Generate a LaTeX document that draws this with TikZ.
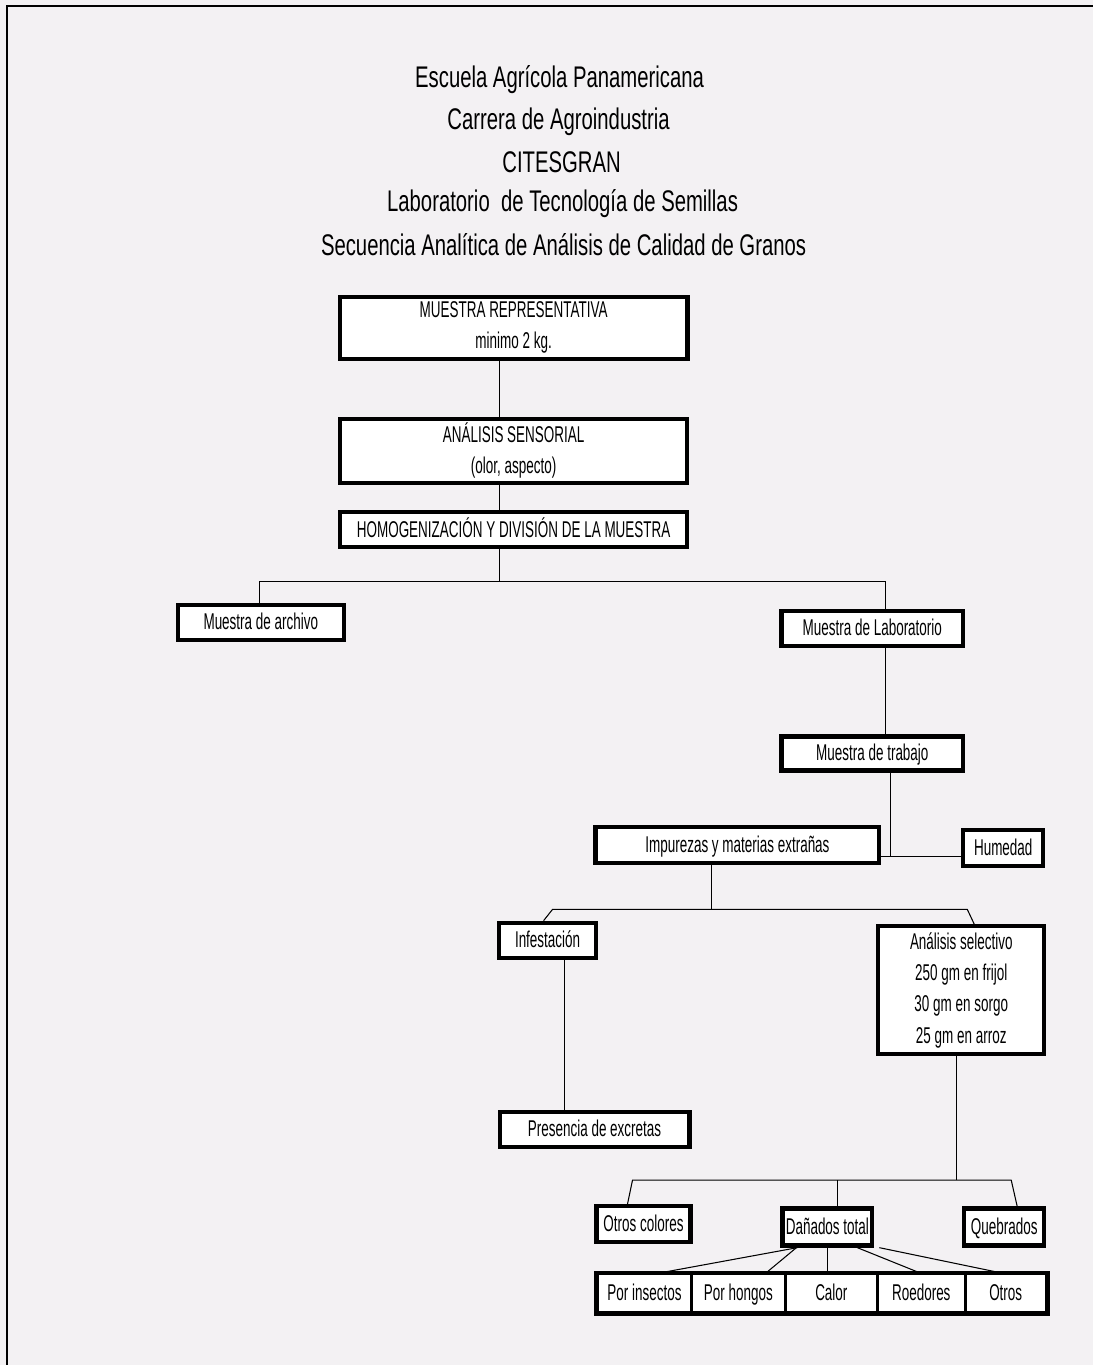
\documentclass[tikz,border=0pt]{standalone}
\usepackage{fontspec}
\setmainfont{Liberation Sans}[FakeStretch=0.74]
\newfontfamily\titlefont{Liberation Sans}[FakeStretch=0.68]
\newfontfamily\boxfont{Liberation Sans}[FakeStretch=0.59]
\usetikzlibrary{calc}

\definecolor{paper}{HTML}{F3F1F3}

\begin{document}
\begin{tikzpicture}
		[x=0.02cm,y=-0.02cm,
		title/.style={font=\titlefont\fontsize{17}{20}\selectfont},
		box/.style 2 args={draw,line width=2.4pt,fill=white,inner sep=0pt,align=center,
			text height=10pt,text depth=1.5pt,
			minimum width=#1*0.02cm,minimum height=#2*0.02cm,font=\boxfont\fontsize{13}{17.8}\selectfont},
		lines/.style={text height=,text depth=},
		cell/.style={box={#1}{38},line width=1.6pt},
		edge/.style={line width=0.6pt}]
		% page and frame
		\fill[paper] (0,0) rectangle (1094,1366);
		\draw[line width=1.2pt] (7,1366) -- (7,6) -- (1094,6);
		
		% heading
		\node[title] (t1) at (560,80)  {Escuela Agrícola Panamericana};
		\node[title] (t2) at (559,122) {Carrera de Agroindustria};
		\node[title] (t3) at (562,162) {CITESGRAN};
		\node[title] (t4) at (563,204) {Laboratorio\ \ de Tecnología de Semillas};
		\node[title] (t5) at (564,245) {Secuencia Analítica de Análisis de Calidad de Granos};
		
		% boxes
		\node[box={348}{62},lines] (muestra) at (514,328) {MUESTRA REPRESENTATIVA\\minimo 2 kg.};
		\node[box={347}{64},lines] (sensorial) at (514,451) {ANÁLISIS SENSORIAL\\(olor, aspecto)};
		\node[box={347}{35}] (homog) at (514,530) {HOMOGENIZACIÓN Y DIVISIÓN DE LA MUESTRA};
		\node[box={166}{35}] (archivo) at (261,623) {Muestra de archivo};
		\node[box={182}{35}] (lab) at (873,629) {Muestra de Laboratorio};
		\node[box={182}{34}] (trabajo) at (873,754) {Muestra de trabajo};
		\node[box={284}{36}] (impurezas) at (738,846) {Impurezas y materias extrañas};
		\node[box={80}{36}] (humedad) at (1004,849) {Humedad};
		\node[box={97}{35}] (infest) at (548,941) {Infestación};
		\node[box={166}{128},lines] (selectivo) at (962,991) {Análisis selectivo\\250 gm en frijol\\30 gm en sorgo\\25 gm en arroz};
		\node[box={190}{35}] (excretas) at (595,1130) {Presencia de excretas};
		\node[box={94}{36}] (colores) at (644,1225) {Otros colores};
		\node[box={90}{37}] (danados) at (828,1228) {Dañados total};
		\node[box={80}{37}] (quebrados) at (1005,1228) {Quebrados};
		
		% bottom row
		\node[cell=94] (insectos) at (645,1294) {Por insectos};
		\node[cell=94] (hongos) at (739,1294) {Por hongos};
		\node[cell=92] (calor) at (832,1294) {Calor};
		\node[cell=88] (roedores) at (922,1294) {Roedores};
		\node[cell=81] (otros) at (1006.5,1294) {Otros};
		\draw[line width=2.4pt] (insectos.north west) rectangle (otros.south east);
		
		% junctions
		\coordinate (j1) at (500,582);
		\coordinate (j1l) at (260,582);
		\coordinate (j1r) at (886,582);
		\coordinate (j2) at (891,857);
		\coordinate (j3) at (712,910);
		\coordinate (j3l) at (553,910);
		\coordinate (j3r) at (968,910);
		\coordinate (j4) at (957,1181);
		\coordinate (j4l) at (633,1181);
		\coordinate (j4r) at (1012,1181);
		\coordinate (j4d) at (838,1181);
		\coordinate (j5) at (565,1000);
		
		% connectors
		\draw[edge] (muestra.south -| j1) -- (sensorial.north -| j1);
		\draw[edge] (sensorial.south -| j1) -- (homog.north -| j1);
		\draw[edge] (homog.south -| j1) -- (j1);
		\draw[edge] (archivo.north -| j1l) -- (j1l) -- (j1r) -- (lab.north -| j1r);
		\draw[edge] (lab.south -| j1r) -- (trabajo.north -| j1r);
		\draw[edge] (trabajo.south -| j2) -- (j2);
		\draw[edge] (impurezas.east |- j2) -- (humedad.west |- j2);
		\draw[edge] (impurezas.south -| j3) -- (j3);
		\draw[edge] ($(infest.north)+(-4,0)$) -- (j3l) -- (j3r) -- ($(selectivo.north)+(13,0)$);
		\draw[edge] (infest.south -| j5) -- (excretas.north -| j5);
		\draw[edge] (selectivo.south -| j4) -- (j4);
		\draw[edge] ($(colores.north)+(-16,0)$) -- (j4l) -- (j4r) -- ($(quebrados.north)+(13,0)$);
		\draw[edge] (j4d) -- (danados.north -| j4d);
		
		\foreach \dx/\to/\tx in {-30/insectos/17,-31/hongos/28,0/calor/-4,30/roedores/-2,52/otros/-6}
		\draw[edge] ($(danados.south)+(\dx,0)$) -- ($(\to.north)+(\tx,0)$);
		\end{tikzpicture}
\end{document}
